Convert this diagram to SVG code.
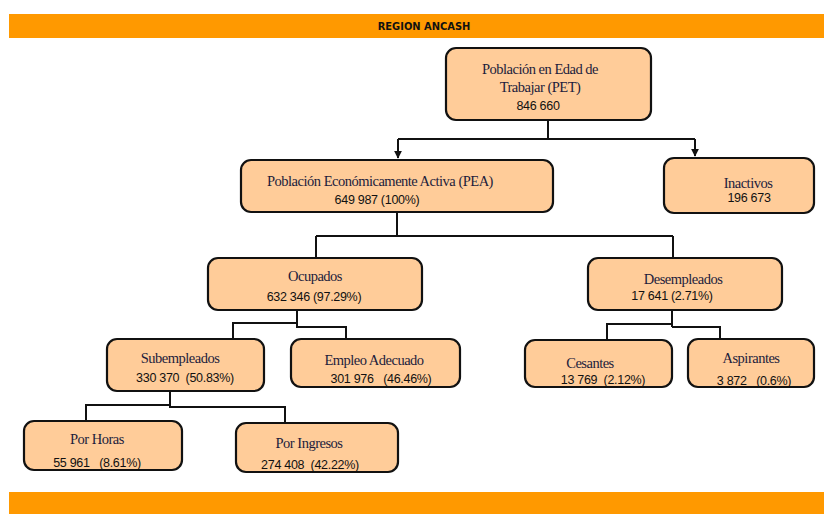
<svg xmlns="http://www.w3.org/2000/svg" width="824" height="514" viewBox="0 0 824 514">
<style>
.node rect{fill:#FFCC99;stroke:#111;stroke-width:2.2}
text{white-space:pre}
.lbl{font-family:"Liberation Serif","DejaVu Serif",serif;font-size:14.5px;fill:#1c1c3c;text-anchor:middle;letter-spacing:-0.5px}
.num{font-family:"Liberation Sans","DejaVu Sans",sans-serif;font-size:12.5px;fill:#111;text-anchor:middle;letter-spacing:-0.3px}
.bar{fill:#FF9900}
.title{font-family:"DejaVu Sans Condensed","Liberation Sans",sans-serif;font-size:11px;font-weight:bold;fill:#111;text-anchor:middle}
#connectors path{fill:none;stroke:#111;stroke-width:2}
</style>
<defs>
<marker id="arr" viewBox="0 0 10 10" refX="9" refY="5" markerWidth="4" markerHeight="4" orient="auto">
<path d="M0,0 L10,5 L0,10 z" fill="#111"/>
</marker>
</defs>
<rect class="bar" x="9" y="14" width="815" height="24"/>
<text class="title" x="424" y="30">REGION ANCASH</text>
<rect class="bar" x="9" y="492" width="815" height="22"/>
<g id="connectors">
<path d="M548,120 V139 M398,139 H695"/>
<path d="M398,139 V158" marker-end="url(#arr)"/>
<path d="M695,139 V156" marker-end="url(#arr)"/>
<path d="M397,212 V236 M316,236 H673 M316,236 V258 M673,236 V258"/>
<path d="M297,310 V323 H233 V339 M297,323 V327 H346 V339"/>
<path d="M672,310 V327 M672,324 H607 V340 M672,327 H720 V339"/>
<path d="M170,391 V405 H86 V421 M170,405 V407 H285 V423"/>
</g>
<g id="pet" class="node">
<rect x="446" y="48" width="205" height="72" rx="10"/>
<text class="lbl" x="540" y="74">Población en Edad de</text>
<text class="lbl" x="540" y="92">Trabajar (PET)</text>
<text class="num" x="538" y="110">846 660</text>
</g>
<g id="pea" class="node">
<rect x="241" y="160" width="312" height="52" rx="10"/>
<text class="lbl" x="380" y="186">Población Económicamente Activa (PEA)</text>
<text class="num" x="377" y="204">649 987 (100%)</text>
</g>
<g id="inactivos" class="node">
<rect x="664" y="158" width="150" height="55" rx="10"/>
<text class="lbl" x="748" y="188">Inactivos</text>
<text class="num" x="749" y="202">196 673</text>
</g>
<g id="ocupados" class="node">
<rect x="208" y="258" width="214" height="52" rx="10"/>
<text class="lbl" x="315" y="281">Ocupados</text>
<text class="num" x="314" y="301">632 346 (97.29%)</text>
</g>
<g id="desempleados" class="node">
<rect x="588" y="258" width="194" height="52" rx="10"/>
<text class="lbl" x="683" y="284">Desempleados</text>
<text class="num" x="672" y="300">17 641 (2.71%)</text>
</g>
<g id="subempleados" class="node">
<rect x="107" y="339" width="157" height="52" rx="10"/>
<text class="lbl" x="180" y="363">Subempleados</text>
<text class="num" x="185" y="382">330 370  (50.83%)</text>
</g>
<g id="adecuado" class="node">
<rect x="291" y="339" width="169" height="48" rx="10"/>
<text class="lbl" x="374" y="365">Empleo Adecuado</text>
<text class="num" x="381" y="383">301 976   (46.46%)</text>
</g>
<g id="cesantes" class="node">
<rect x="525" y="340" width="147" height="47" rx="10"/>
<text class="lbl" x="590" y="368">Cesantes</text>
<text class="num" x="603" y="384">13 769  (2.12%)</text>
</g>
<g id="aspirantes" class="node">
<rect x="688" y="339" width="126" height="48" rx="10"/>
<text class="lbl" x="751" y="363">Aspirantes</text>
<text class="num" x="754" y="385">3 872   (0.6%)</text>
</g>
<g id="porhoras" class="node">
<rect x="24" y="421" width="158" height="49" rx="10"/>
<text class="lbl" x="97" y="444">Por Horas</text>
<text class="num" x="97" y="467">55 961   (8.61%)</text>
</g>
<g id="poringresos" class="node">
<rect x="236" y="423" width="162" height="49" rx="10"/>
<text class="lbl" x="309" y="448">Por Ingresos</text>
<text class="num" x="310" y="469">274 408  (42.22%)</text>
</g>
</svg>
